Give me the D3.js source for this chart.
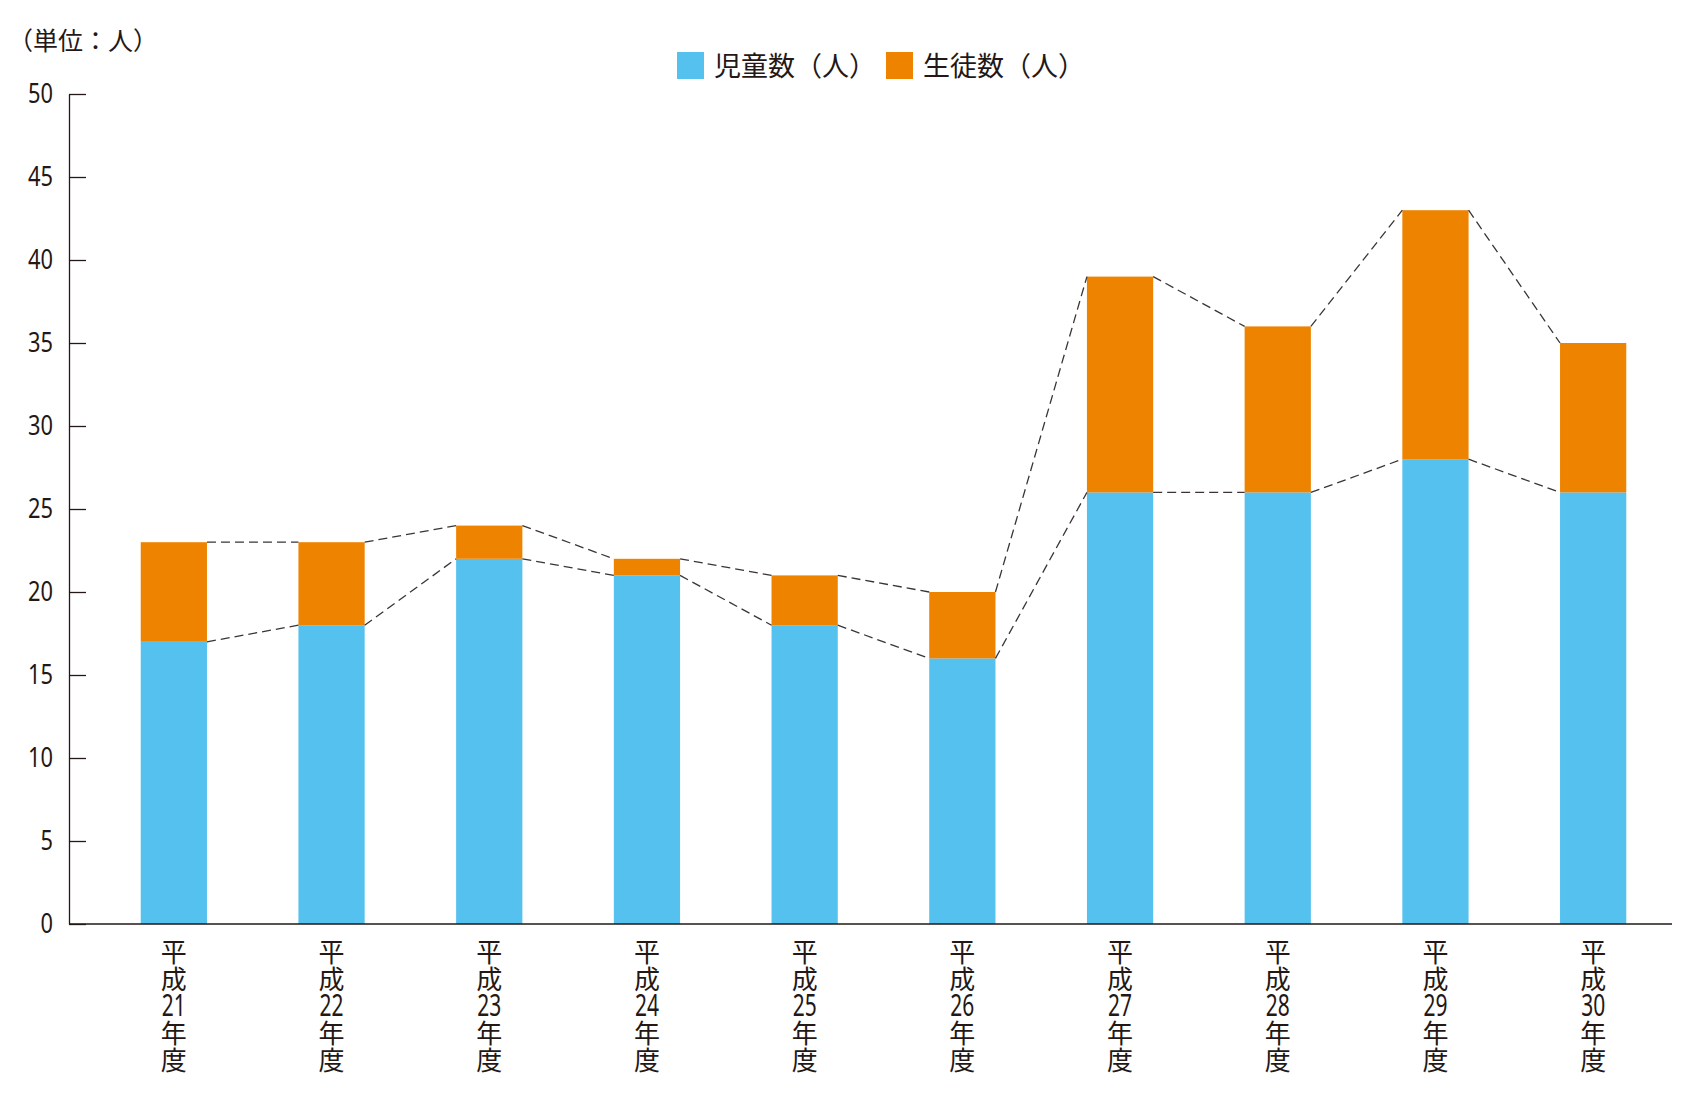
<!DOCTYPE html>
<html>
<head>
<meta charset="utf-8">
<script src="https://cdn.jsdelivr.net/npm/d3@7"></script>
<style>
  body { margin: 0; background: #fff; }
  svg { display: block; }
</style>
</head>
<body>
<script>
// data
var years = ["21", "22", "23", "24", "25", "26", "27", "28", "29", "30"];
var jidou = [17, 18, 22, 21, 18, 16, 26, 26, 28, 26];   // 児童数
var seito = [6, 5, 2, 1, 3, 4, 13, 10, 15, 9];          // 生徒数
var yTicks = [0, 5, 10, 15, 20, 25, 30, 35, 40, 45, 50];
var seriesNames = ["児童数（人）", "生徒数（人）"];

function main() {
  var width = 1691, height = 1100;
  var ink = "#231815";
  var blue = "#55c1ef", orange = "#ee8300";
  var cjk = "'Noto Sans CJK JP', sans-serif";
  var digits = "'Noto Sans', 'Noto Sans CJK JP', sans-serif";

  var svg = d3.select("body").append("svg")
    .attr("width", width)
    .attr("height", height);

  var x = d3.scaleBand()
    .domain(years)
    .range([95, 1672])
    .paddingInner(0.58)
    .paddingOuter(0.29);

  var y = d3.scaleLinear()
    .domain([0, 50])
    .range([924, 94]);

  // bars: children at the bottom, students stacked on top
  var g = svg.append("g");
  g.selectAll("rect.jidou")
    .data(years)
    .enter().append("rect")
    .attr("class", "jidou")
    .attr("x", function (d) { return x(d); })
    .attr("width", x.bandwidth())
    .attr("y", function (d, i) { return y(jidou[i]); })
    .attr("height", function (d, i) { return y(0) - y(jidou[i]); })
    .attr("fill", blue);

  g.selectAll("rect.seito")
    .data(years)
    .enter().append("rect")
    .attr("class", "seito")
    .attr("x", function (d) { return x(d); })
    .attr("width", x.bandwidth())
    .attr("y", function (d, i) { return y(jidou[i] + seito[i]); })
    .attr("height", function (d, i) { return y(jidou[i]) - y(jidou[i] + seito[i]); })
    .attr("fill", orange);

  // dashed connectors between bar tops
  var pairs = d3.pairs(years.map(function (d, i) { return i; }));
  function connectors(valueOf) {
    g.selectAll(null)
      .data(pairs)
      .enter().append("line")
      .attr("x1", function (p) { return x(years[p[0]]) + x.bandwidth(); })
      .attr("y1", function (p) { return y(valueOf(p[0])); })
      .attr("x2", function (p) { return x(years[p[1]]); })
      .attr("y2", function (p) { return y(valueOf(p[1])); })
      .attr("stroke", "#3a3533")
      .attr("stroke-width", 1.3)
      .attr("stroke-dasharray", "9,5");
  }
  connectors(function (i) { return jidou[i]; });
  connectors(function (i) { return jidou[i] + seito[i]; });

  // y axis, ticks pointing inwards
  var yAxis = svg.append("g")
    .attr("transform", "translate(69,0)")
    .call(d3.axisLeft(y).tickValues(yTicks).tickSize(-17).tickSizeOuter(0).tickPadding(16));
  yAxis.select(".domain").attr("stroke", ink).attr("stroke-width", 1.3);
  yAxis.selectAll(".tick line").attr("stroke", ink).attr("stroke-width", 1.3);
  yAxis.selectAll(".tick text")
    .attr("fill", ink)
    .attr("textLength", function (d) { return String(d).length * 12.5; })
    .attr("lengthAdjust", "spacingAndGlyphs")
    .style("font-family", digits)
    .style("font-size", "28px");

  // x axis baseline
  svg.append("line")
    .attr("x1", 69).attr("x2", 1672)
    .attr("y1", y(0)).attr("y2", y(0))
    .attr("stroke", ink)
    .attr("stroke-width", 1.5);

  // vertical category labels, one text per category
  var labels = svg.selectAll("text.xlab")
    .data(years)
    .enter().append("text")
    .attr("class", "xlab")
    .attr("y", 962)
    .attr("text-anchor", "middle")
    .attr("fill", ink)
    .style("font-family", cjk)
    .style("font-size", "26px");
  labels.each(function (d) {
    var cx = x(d) + x.bandwidth() / 2;
    var parts = ["平", "成", d, "年", "度"];
    var sel = d3.select(this);
    parts.forEach(function (p, k) {
      var t = sel.append("tspan")
        .attr("x", cx)
        .attr("dy", k === 0 ? 0 : 27)
        .text(p);
      if (k === 2) {
        t.style("font-family", digits)
          .style("font-size", "31px")
          .attr("textLength", 24)
          .attr("lengthAdjust", "spacingAndGlyphs");
      }
    });
  });

  // unit label
  svg.append("text")
    .attr("x", 8)
    .attr("y", 50)
    .attr("fill", ink)
    .style("font-family", cjk)
    .style("font-size", "25px")
    .text("（単位：人）");

  // legend
  var legendX = [677, 886];
  var colors = [blue, orange];
  var legend = svg.selectAll("g.legend")
    .data(seriesNames)
    .enter().append("g")
    .attr("class", "legend")
    .attr("transform", function (d, i) { return "translate(" + legendX[i] + ",52)"; });
  legend.append("rect")
    .attr("width", 27)
    .attr("height", 27)
    .attr("fill", function (d, i) { return colors[i]; });
  legend.append("text")
    .attr("x", 37)
    .attr("y", 24)
    .attr("fill", ink)
    .style("font-family", cjk)
    .style("font-size", "27px")
    .text(function (d) { return d; });
}
document.addEventListener("DOMContentLoaded", main);
</script>
</body>
</html>
